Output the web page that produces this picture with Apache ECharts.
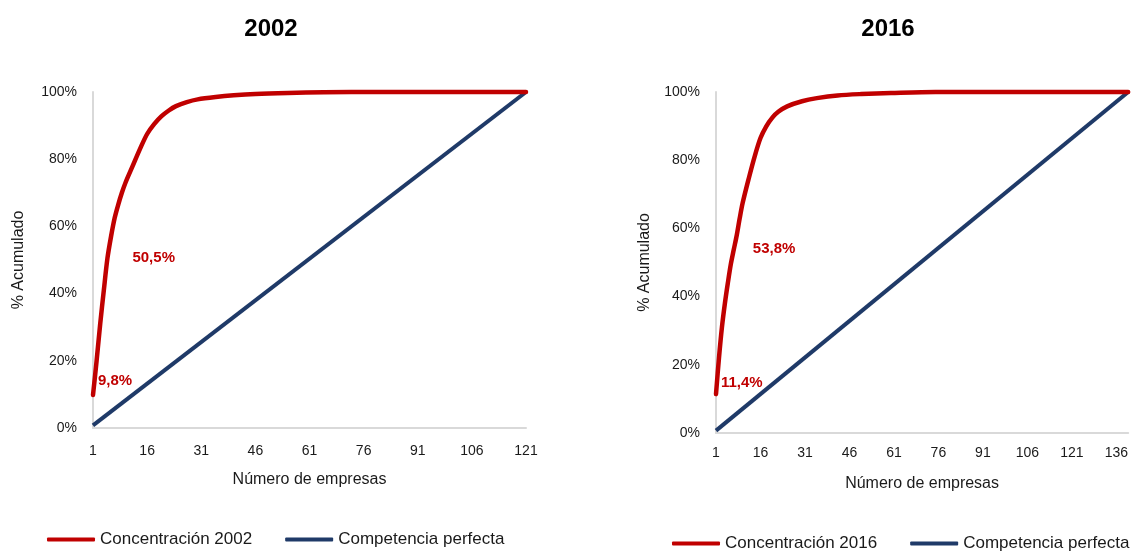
<!DOCTYPE html>
<html>
<head>
<meta charset="utf-8">
<script src="https://cdn.jsdelivr.net/npm/echarts@6/dist/echarts.min.js"></script>
<style>
  html, body { margin: 0; padding: 0; background: #fff; }
  #chart { width: 1131px; height: 553px; }
</style>
</head>
<body>
<div id="chart"></div>
<script>
// Cumulative market share by number of firms (concentration curves)
const xTicks2002 = [1, 16, 31, 46, 61, 76, 91, 106, 121];
const xTicks2016 = [1, 16, 31, 46, 61, 76, 91, 106, 121, 136];

// 2002 concentration curve: firm rank and cumulative share (%)
const firms2002 = [1, 2, 3, 4, 5, 6, 7, 8, 9, 10, 12, 14, 16, 18, 20, 22, 24, 27, 30, 35, 40, 46, 55, 65, 80, 100, 121];
const share2002 = [9.8, 20, 31, 41, 50.5, 57, 62.5, 66.5, 70, 73, 78, 83, 87.5, 90.5, 92.8, 94.5, 95.8, 97, 97.8, 98.5, 99, 99.4, 99.7, 99.9, 100, 100, 100];
const labelAt2002 = [1, 5];

// 2016 concentration curve
const firms2016 = [1, 2, 3, 4, 5, 6, 7, 8, 9, 10, 12, 14, 16, 18, 20, 22, 25, 30, 35, 42, 50, 60, 75, 100, 140];
const share2016 = [11.4, 22, 31, 38, 44, 49.5, 53.8, 58, 63, 67.5, 74.5, 81, 86.5, 90, 92.5, 94.2, 95.8, 97.3, 98.2, 99, 99.4, 99.7, 100, 100, 100];
const labelAt2016 = [1, 7];

// Perfect competition: equal shares, straight diagonal
const perfFirms2002 = [1, 121];
const perfShare2002 = [0.8, 100];
const perfFirms2016 = [1, 140];
const perfShare2016 = [0.7, 100];

const RED = '#C00000';
const BLUE = '#1F3A68';
const GREY = '#D9D9D9';
const TXT = '#1a1a1a';
const FONT = '"Liberation Sans", Arial, sans-serif';

const fmtPct = v => String(v).replace('.', ',') + '%';

function curveData(xs, ys, labelled, offsets) {
  return xs.map((x, i) => {
    const k = labelled.indexOf(x);
    if (k < 0) return [x, ys[i]];
    return {
      value: [x, ys[i]],
      label: {
        show: true,
        position: 'right',
        distance: 5,
        offset: offsets[k],
        formatter: p => fmtPct(p.value[1]),
        color: RED,
        fontFamily: FONT,
        fontWeight: 'bold',
        fontSize: 15
      }
    };
  });
}

function pairs(xs, ys) { return xs.map((x, i) => [x, ys[i]]); }

function xAxisFor(idx, max, ticks, nameGap, labelMargin) {
  return {
    gridIndex: idx, type: 'value', min: 1, max: max,
    name: 'Número de empresas', nameLocation: 'middle', nameGap: nameGap,
    nameTextStyle: { color: TXT, fontFamily: FONT, fontSize: 16 },
    axisLine: { show: true, onZero: false, lineStyle: { color: GREY, width: 2 } },
    axisTick: { show: false },
    splitLine: { show: false },
    axisLabel: { customValues: ticks, color: TXT, fontFamily: FONT, fontSize: 14, margin: labelMargin }
  };
}

function yAxisFor(idx, nameGap) {
  return {
    gridIndex: idx, type: 'value', min: 0, max: 100, interval: 20,
    name: '% Acumulado', nameLocation: 'middle', nameGap: nameGap,
    nameTextStyle: { color: TXT, fontFamily: FONT, fontSize: 16 },
    axisLine: { show: true, lineStyle: { color: GREY, width: 2 } },
    axisTick: { show: false },
    splitLine: { show: false },
    axisLabel: { formatter: '{value}%', color: TXT, fontFamily: FONT, fontSize: 14, margin: 16 }
  };
}

const legendCommon = {
  icon: 'roundRect', itemWidth: 48, itemHeight: 4, itemGap: 33, padding: 0,
  textStyle: { color: TXT, fontFamily: FONT, fontSize: 17 }
};

const chart = echarts.init(document.getElementById('chart'), null, { renderer: 'canvas' });
chart.setOption({
  animation: false,
  backgroundColor: '#fff',
  title: [
    { text: '2002', left: 266, top: 12, textAlign: 'center',
      textStyle: { fontFamily: FONT, fontWeight: 'bold', fontSize: 24, color: '#000' } },
    { text: '2016', left: 883, top: 12, textAlign: 'center',
      textStyle: { fontFamily: FONT, fontWeight: 'bold', fontSize: 24, color: '#000' } }
  ],
  grid: [
    { left: 93, width: 433, top: 92, height: 336 },
    { left: 716, width: 414, top: 92, height: 341 }
  ],
  xAxis: [
    xAxisFor(0, 121, xTicks2002, 44, 16),
    xAxisFor(1, 140, xTicks2016, 43, 13)
  ],
  yAxis: [
    yAxisFor(0, 66),
    yAxisFor(1, 63)
  ],
  legend: [
    Object.assign({ left: 47, top: 531, data: ['Concentración 2002', 'Competencia perfecta'] }, legendCommon),
    Object.assign({ left: 672, top: 535, data: ['Concentración 2016', 'Competencia perfecta'] }, legendCommon)
  ],
  series: [
    { name: 'Competencia perfecta', type: 'line', xAxisIndex: 0, yAxisIndex: 0,
      data: pairs(perfFirms2002, perfShare2002), showSymbol: false, clip: false,
      lineStyle: { color: BLUE, width: 4 }, itemStyle: { color: BLUE } },
    { name: 'Concentración 2002', type: 'line', xAxisIndex: 0, yAxisIndex: 0,
      data: curveData(firms2002, share2002, labelAt2002, [[0, -14], [20, 0]]),
      smooth: 0.3, symbol: 'circle', symbolSize: 0, showSymbol: true, clip: false,
      lineStyle: { color: RED, width: 4.5, join: 'round', cap: 'round' }, itemStyle: { color: RED } },
    { name: 'Competencia perfecta', type: 'line', xAxisIndex: 1, yAxisIndex: 1,
      data: pairs(perfFirms2016, perfShare2016), showSymbol: false, clip: false,
      lineStyle: { color: BLUE, width: 4 }, itemStyle: { color: BLUE } },
    { name: 'Concentración 2016', type: 'line', xAxisIndex: 1, yAxisIndex: 1,
      data: curveData(firms2016, share2016, labelAt2016, [[0, -11], [14, -1]]),
      smooth: 0.3, symbol: 'circle', symbolSize: 0, showSymbol: true, clip: false,
      lineStyle: { color: RED, width: 4.5, join: 'round', cap: 'round' }, itemStyle: { color: RED } }
  ]
});
</script>
</body>
</html>
